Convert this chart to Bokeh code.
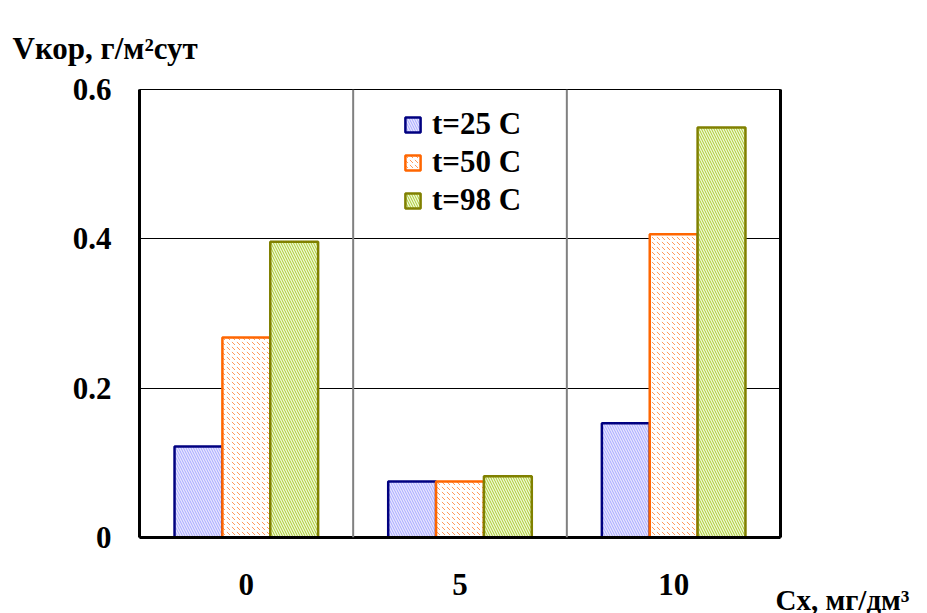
from bokeh.plotting import figure
from bokeh.models import ColumnDataSource, Span, FixedTicker, LinearAxis, Legend, LegendItem, Title
from bokeh.transform import dodge
from bokeh.embed import file_html
from bokeh.resources import INLINE

categories = ["0", "5", "10"]
t25 = [0.122, 0.075, 0.153]
t50 = [0.268, 0.075, 0.406]
t98 = [0.396, 0.082, 0.549]
series_names = ["t=25 C", "t=50 C", "t=98 C"]
y_ticks = [0, 0.2, 0.4, 0.6]
y_tick_labels = ["0", "0.2", "0.4", "0.6"]
y_title = "Vкор, г/м²сут"
x_title = "Cх, мг/дм³"

FONT = "Liberation Serif"
FS = "31px"

src = ColumnDataSource(dict(cat=categories, t25=t25, t50=t50, t98=t98))

W, H = 927, 613
FL, FR, FT, FB = 139, 780, 89, 537

p = figure(x_range=categories, y_range=(0, 0.6), width=W, height=H,
           output_backend="svg", toolbar_location=None,
           min_border_left=FL, min_border_top=FT, min_border_right=W - FR, min_border_bottom=H - FB)

p.outline_line_color = "black"
p.outline_line_width = 1

w = 0.224
styles = [
    dict(fill_color="#e6e6ff", line_color="#000080", hatch_pattern="\\", hatch_color="#a8a8ff"),
    dict(fill_color="#ffffff", line_color="#ff6600", hatch_pattern="`", hatch_color="#ff9a5a"),
    dict(fill_color="#f2f8d8", line_color="#808000", hatch_pattern="\\", hatch_color="#a8cc30"),
]
renderers = []
for i, (col, st) in enumerate(zip(["t25", "t50", "t98"], styles)):
    r = p.vbar(x=dodge("cat", (i - 1) * w, range=p.x_range), top=col, width=w, source=src,
               line_width=2.5, hatch_scale=5, hatch_weight=1, **st)
    renderers.append(r)

p.yaxis.ticker = FixedTicker(ticks=y_ticks)
p.yaxis.major_label_overrides = {t: l for t, l in zip(y_ticks, y_tick_labels)}
for ax in [p.xaxis[0], p.yaxis[0]]:
    ax.axis_line_width = 3
    ax.axis_line_color = "black"
    ax.major_tick_line_color = None
    ax.minor_tick_line_color = None
    ax.major_label_text_font = FONT
    ax.major_label_text_font_style = "bold"
    ax.major_label_text_font_size = FS
    ax.major_label_text_color = "black"
p.yaxis.major_label_standoff = 22
p.xaxis.major_label_standoff = 30

right_ax = LinearAxis(ticker=FixedTicker(ticks=[]), axis_line_width=3, axis_line_color="black",
                      major_tick_line_color=None, minor_tick_line_color=None,
                      major_label_text_font_size="0px")
p.add_layout(right_ax, "right")

# y-axis title as the plot title, shifted to the left edge
p.title.text = y_title
p.title.align = "left"
p.title.offset = 12 - FL
p.title.standoff = 48
p.title.text_font = FONT
p.title.text_font_style = "bold"
p.title.text_font_size = FS
p.title.text_color = "black"

# x-axis title as a title below, at the right
p.add_layout(Title(text=x_title, align="left", offset=775 - FL, standoff=-36,
                   text_font=FONT, text_font_style="bold", text_font_size="29px",
                   text_color="black"), "below")

p.ygrid.ticker = FixedTicker(ticks=y_ticks[1:-1])
p.ygrid.grid_line_color = "black"
p.ygrid.grid_line_width = 1
p.xgrid.grid_line_color = None

for k in range(1, len(categories)):
    p.add_layout(Span(location=k, dimension="height", line_color="#808080", line_width=2))

legend = Legend(items=[LegendItem(label=n, renderers=[r]) for n, r in zip(series_names, renderers)],
                location=(264, 319), glyph_width=19, glyph_height=19, label_standoff=10,
                spacing=2, padding=0, margin=0,
                label_text_font=FONT, label_text_font_style="bold", label_text_font_size=FS,
                label_text_color="black",
                border_line_color=None, background_fill_alpha=0)
p.add_layout(legend, "center")

open("out.html", "w").write(file_html(p, INLINE))
